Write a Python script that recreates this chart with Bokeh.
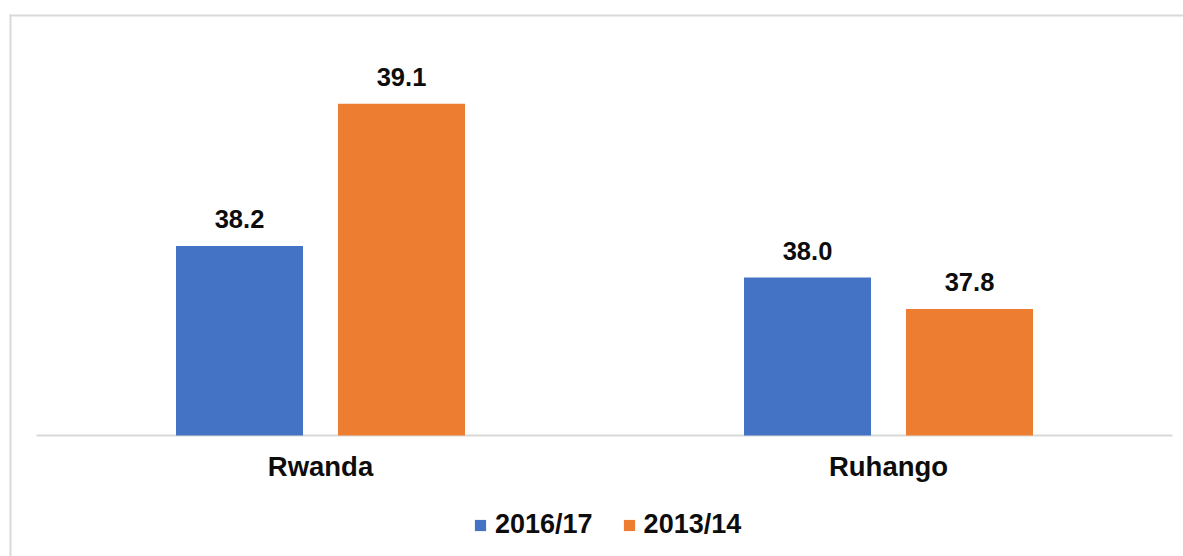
from bokeh.plotting import figure
from bokeh.models import (ColumnDataSource, Range1d, Legend, LegendItem,
                          BoxAnnotation, FixedTicker)
from bokeh.transform import dodge
from bokeh.core.properties import value
from bokeh.embed import file_html
from bokeh.resources import INLINE

# ---- data ----
categories = ["Rwanda", "Ruhango"]
series_names = ["2016/17", "2013/14"]
values_2016 = [38.2, 38.0]
values_2013 = [39.1, 37.8]
axis_min = 37.0

# category centres on a numeric axis (one unit per category)
centres = [i + 0.5 for i in range(len(categories))]

src = ColumnDataSource(dict(
    x=centres,
    v2016=values_2016,
    v2013=values_2013,
    base=[axis_min] * len(categories),
    t2016=[f"{v:.1f}" for v in values_2016],
    t2013=[f"{v:.1f}" for v in values_2013],
))

BLUE = "#4472C4"
ORANGE = "#ED7D31"
FONT = "Liberation Sans"
TXT = "#0d0d0d"

W, H = 1183, 556
PX_PER_CAT = 568.0     # pixel width of one category
PX_PER_UNIT = 158.0    # pixels per y unit
LEFT_PAD, BASE_Y = 36.0, 435.0

p = figure(
    x_range=Range1d(-LEFT_PAD / PX_PER_CAT, (W - LEFT_PAD) / PX_PER_CAT),
    y_range=Range1d(axis_min - (H - BASE_Y) / PX_PER_UNIT, axis_min + BASE_Y / PX_PER_UNIT),
    width=W, height=H,
    output_backend="svg", toolbar_location=None,
    min_border=0, min_border_left=0, min_border_right=0,
    min_border_top=0, min_border_bottom=0,
)
p.outline_line_color = None
p.xgrid.visible = False
p.ygrid.visible = False
p.yaxis.visible = False

# outer chart-area border: only top and left edges are inside the window
# (screen y for these boxes is measured from the bottom of the frame)
GRID_GREY = "#d9d9d9"
p.add_layout(BoxAnnotation(left=9, top=H - 14, bottom=H - 16,
                           left_units="screen", top_units="screen", bottom_units="screen",
                           fill_color=GRID_GREY, fill_alpha=1, line_color=None))
p.add_layout(BoxAnnotation(left=9, right=11, top=H - 14,
                           left_units="screen", right_units="screen", top_units="screen",
                           fill_color=GRID_GREY, fill_alpha=1, line_color=None))

# baseline across the category span
p.segment(x0=[0], x1=[len(categories)], y0=[axis_min], y1=[axis_min],
          line_color=GRID_GREY, line_width=2)

r1 = p.vbar(x=dodge("x", -0.1426), top="v2016", bottom="base",
            width=0.2236, source=src, fill_color=BLUE, line_color=None)
r2 = p.vbar(x=dodge("x", 0.1426), top="v2013", bottom="base",
            width=0.2236, source=src, fill_color=ORANGE, line_color=None)

for col, txt, off in (("v2016", "t2016", -0.1426), ("v2013", "t2013", 0.1426)):
    p.text(x=dodge("x", off), y=col, text=txt, source=src,
           text_align="center", text_baseline="alphabetic", y_offset=-27,
           text_font=value(FONT), text_font_style="bold", text_font_size="25.5px",
           text_color=TXT)

ax = p.xaxis[0]
ax.fixed_location = axis_min
ax.ticker = FixedTicker(ticks=centres)
ax.major_label_overrides = {c: name for c, name in zip(centres, categories)}
ax.axis_line_color = None
ax.major_tick_line_color = None
ax.minor_tick_line_color = None
ax.major_label_standoff = 9
ax.major_label_text_font = FONT
ax.major_label_text_font_style = "bold"
ax.major_label_text_font_size = "27.5px"
ax.major_label_text_color = TXT

legend = Legend(
    items=[LegendItem(label=series_names[0], renderers=[r1]),
           LegendItem(label=series_names[1], renderers=[r2])],
    orientation="horizontal", location=(473, 16),
    glyph_width=14, glyph_height=14, label_standoff=8, spacing=29,
    padding=5, margin=0, border_line_color=None, background_fill_alpha=0,
    label_text_font=FONT, label_text_font_style="bold", label_text_font_size="27px",
    label_text_color=TXT,
)
p.add_layout(legend, "center")

open("out.html", "w").write(file_html(p, INLINE))
